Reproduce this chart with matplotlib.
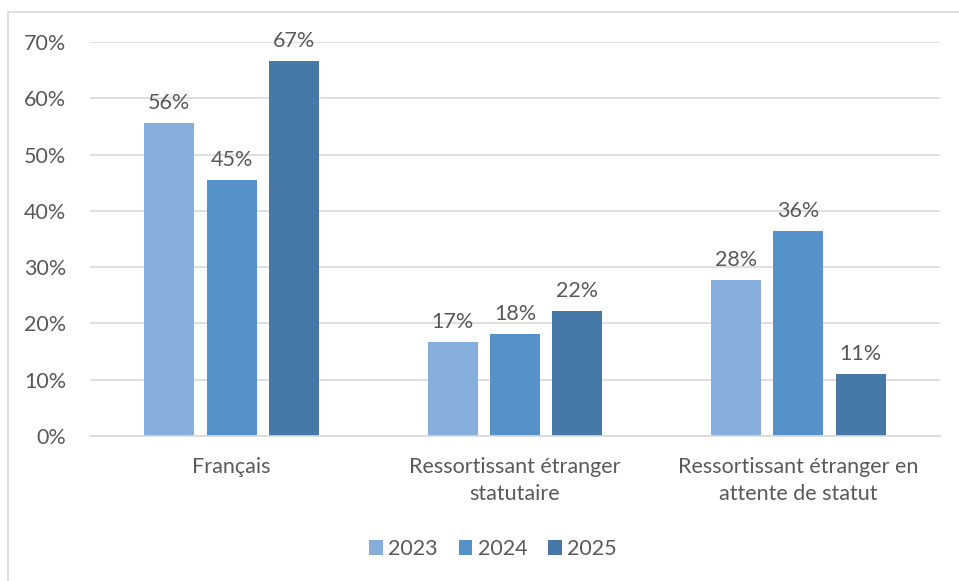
import numpy as np
import matplotlib.pyplot as plt
from matplotlib.patches import Rectangle

# Data
categories = ["Français", "Ressortissant étranger\nstatutaire", "Ressortissant étranger en\nattente de statut"]
years = ["2023", "2024", "2025"]
v2023 = [55.6, 16.7, 27.8]
v2024 = [45.5, 18.2, 36.4]
v2025 = [66.7, 22.2, 11.1]
labels2023 = ["56%", "17%", "28%"]
labels2024 = ["45%", "18%", "36%"]
labels2025 = ["67%", "22%", "11%"]

series = [v2023, v2024, v2025]
series_labels = [labels2023, labels2024, labels2025]
colors = ["#85AEDC", "#5592C9", "#4678A8"]
txt = "#595959"
fs = 15.5

plt.rcParams['font.family'] = ['Lato', 'DejaVu Sans']

fig = plt.figure(figsize=(9.59, 5.81), dpi=100)
# outer chart border (left/top visible)
fig.patches.append(Rectangle((8/959, -0.1), 1.2, 1 - 12/581 + 0.1, transform=fig.transFigure,
                             fill=False, edgecolor="#D9D9D9", linewidth=1.2))

ax = fig.add_axes([90/959, 1 - 436/581, 850/959, (436 - 42)/581])

x = np.arange(len(categories))
w = 0.177
step = 0.22
for i, (vals, labs) in enumerate(zip(series, series_labels)):
    pos = x + (i - 1) * step
    bars = ax.bar(pos, vals, width=w, color=colors[i], label=years[i], zorder=2)
    for b, lab in zip(bars, labs):
        ax.annotate(lab, (b.get_x() + b.get_width() / 2, b.get_height()),
                    xytext=(0, 7), textcoords="offset points",
                    ha="center", va="bottom", fontsize=fs, color=txt)

ax.set_xlim(-0.5, 2.5)
ax.set_ylim(0, 70)
ax.set_yticks(range(0, 71, 10))
ax.set_yticklabels([f"{t}%" for t in range(0, 71, 10)])
ax.set_xticks(x)
ax.set_xticklabels(categories, linespacing=1.45)
ax.tick_params(axis="both", length=0, labelsize=fs, labelcolor=txt)
ax.tick_params(axis="y", pad=17)
ax.tick_params(axis="x", pad=15)
ax.yaxis.grid(True, color="#D9D9D9", linewidth=1.2, zorder=0)
ax.set_axisbelow(True)
for s in ["top", "right", "left"]:
    ax.spines[s].set_visible(False)
ax.spines["bottom"].set_color("#D9D9D9")
ax.spines["bottom"].set_linewidth(1.2)

fig.legend(loc="center", bbox_to_anchor=(493/959, 1 - 549/581), ncol=3, frameon=False,
           fontsize=fs, labelcolor=txt, handlelength=0.65, handleheight=0.65,
           handletextpad=0.25, columnspacing=0.95)

fig.savefig("out.png", dpi=100, facecolor="white")
